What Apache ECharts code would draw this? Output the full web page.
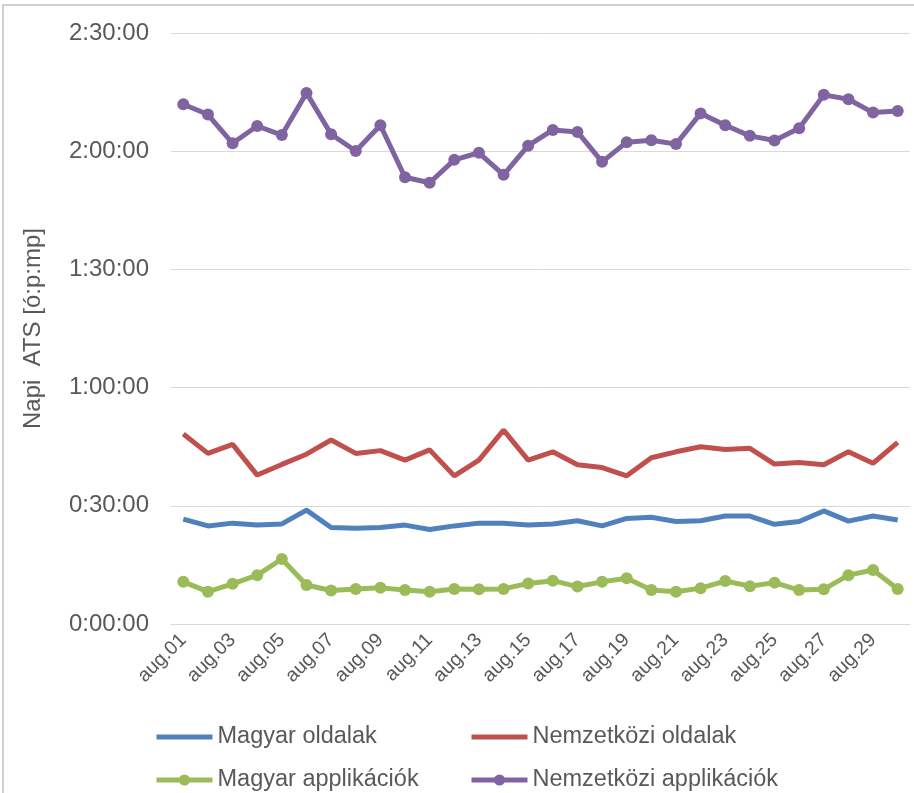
<!DOCTYPE html>
<html>
<head>
<meta charset="utf-8">
<script src="https://cdn.jsdelivr.net/npm/echarts@6/dist/echarts.min.js"></script>
<style>
  html, body { margin: 0; padding: 0; background: #fff; }
  #chart { width: 914px; height: 793px; }
</style>
</head>
<body>
<div id="chart"></div>
<script>
var days = [];
for (var d = 1; d <= 30; d++) {
  days.push("aug." + (d < 10 ? "0" + d : d));
}

// daily average time spent, in seconds
var magyarOldalak = [1596, 1494, 1536, 1506, 1524, 1734, 1470, 1458, 1470, 1506,
  1440, 1494, 1536, 1536, 1506, 1524, 1572, 1494, 1608, 1626,
  1560, 1572, 1644, 1644, 1518, 1560, 1722, 1566, 1644, 1584];
var nemzetkoziOldalak = [2892, 2598, 2736, 2268, 2430, 2586, 2802, 2598, 2640, 2496,
  2652, 2256, 2496, 2952, 2496, 2622, 2424, 2382, 2256, 2532,
  2622, 2700, 2658, 2676, 2436, 2460, 2424, 2622, 2448, 2766];
var magyarApp = [642, 492, 612, 744, 990, 594, 510, 534, 552, 516,
  492, 534, 528, 534, 618, 660, 570, 642, 696, 516,
  492, 546, 654, 576, 630, 516, 528, 744, 822, 534];
var nemzetkoziApp = [7914, 7758, 7320, 7584, 7446, 8088, 7458, 7203, 7596, 6804,
  6720, 7068, 7176, 6840, 7284, 7524, 7494, 7038, 7338, 7368,
  7308, 7776, 7596, 7434, 7362, 7548, 8058, 7992, 7788, 7812];

var font = '"Liberation Sans", Arial, sans-serif';
var textColor = "#595959";

function hms(sec) {
  var h = Math.floor(sec / 3600);
  var m = Math.floor((sec % 3600) / 60);
  var s = Math.round(sec % 60);
  return h + ":" + (m < 10 ? "0" + m : m) + ":" + (s < 10 ? "0" + s : s);
}

function legendAt(name, left, top, withMarker) {
  return {
    data: [name],
    left: left,
    top: top,
    padding: 0,
    itemWidth: 56,
    itemHeight: 14,
    lineStyle: { width: 5 },
    itemStyle: withMarker ? {} : { opacity: 0 },
    textStyle: { fontFamily: font, fontSize: 23.5, color: textColor },
  };
}

var myChart = echarts.init(document.getElementById("chart"));

myChart.setOption({
  animation: false,
  graphic: [
    {
      type: "rect",
      shape: { x: 3, y: 5, width: 1000, height: 1000 },
      style: { fill: "none", stroke: "#d0d0d0", lineWidth: 2 },
    },
  ],
  legend: [
    legendAt("Magyar oldalak", 154, 725, false),
    legendAt("Nemzetközi oldalak", 469, 725, false),
    legendAt("Magyar applikációk", 154, 768, true),
    legendAt("Nemzetközi applikációk", 469, 768, true),
  ],
  grid: { left: 171, right: 4, top: 33, bottom: 169 },
  xAxis: {
    type: "category",
    data: days,
    boundaryGap: true,
    axisTick: { show: false },
    axisLine: { lineStyle: { color: "#d9d9d9", width: 1 } },
    axisLabel: {
      rotate: 45,
      interval: 1,
      margin: 13,
      fontFamily: font,
      fontSize: 19.5,
      color: textColor,
    },
  },
  yAxis: {
    type: "value",
    min: 0,
    max: 9000,
    interval: 1800,
    name: "Napi  ATS [ó:p:mp]",
    nameLocation: "middle",
    nameGap: 126,
    nameTextStyle: { fontFamily: font, fontSize: 24, color: textColor },
    axisLine: { show: false },
    axisTick: { show: false },
    splitLine: { lineStyle: { color: "#d9d9d9", width: 1 } },
    axisLabel: {
      margin: 22,
      fontFamily: font,
      fontSize: 24,
      color: textColor,
      formatter: hms,
    },
  },
  series: [
    {
      name: "Magyar oldalak",
      type: "line",
      data: magyarOldalak,
      symbol: "none",
      color: "#4f81bd",
      lineStyle: { width: 5 },
    },
    {
      name: "Nemzetközi oldalak",
      type: "line",
      data: nemzetkoziOldalak,
      symbol: "none",
      color: "#c0504d",
      lineStyle: { width: 5 },
    },
    {
      name: "Magyar applikációk",
      type: "line",
      data: magyarApp,
      symbol: "circle",
      symbolSize: 12,
      color: "#9bbb59",
      lineStyle: { width: 5 },
    },
    {
      name: "Nemzetközi applikációk",
      type: "line",
      data: nemzetkoziApp,
      symbol: "circle",
      symbolSize: 12,
      color: "#8064a2",
      lineStyle: { width: 5 },
    },
  ],
});
</script>
</body>
</html>
